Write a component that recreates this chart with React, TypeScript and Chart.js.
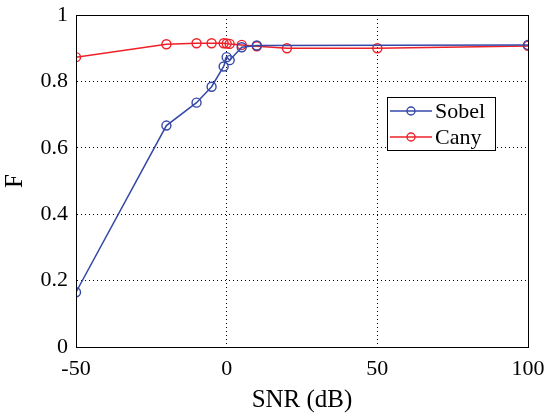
import React, { useEffect, useRef } from "react";
import { Chart, registerables } from "chart.js";

Chart.register(...registerables);

const sobelX = [-50, -20, -10, -5, -1, 0, 1, 5, 10, 100];
const sobelY = [0.165, 0.667, 0.736, 0.784, 0.845, 0.873, 0.864, 0.903, 0.908, 0.91];
const canyX = [-50, -20, -10, -5, -1, 0, 1, 5, 10, 20, 50, 100];
const canyY = [0.873, 0.912, 0.915, 0.915, 0.915, 0.914, 0.913, 0.91, 0.906, 0.9, 0.9, 0.907];
const seriesNames = ["Sobel", "Cany"];
const seriesColors = ["#3548A8", "#EE2028"];
const xTitle = "SNR (dB)";
const yTitle = "F";

const FONT = "'Liberation Serif', 'Times New Roman', serif";

export default function App() {
  const ref = useRef<HTMLCanvasElement | null>(null);
  useEffect(() => {
    if (!ref.current) return;
    const legendPlugin = {
      id: "boxLegend",
      afterDraw(chart: any) {
        const ctx = chart.ctx;
        const a = chart.chartArea;
        ctx.save();
        ctx.strokeStyle = "#000";
        ctx.lineWidth = 1;
        ctx.strokeRect(Math.round(a.left) + 0.5, Math.round(a.top) + 0.5, Math.round(a.right - a.left), Math.round(a.bottom - a.top));
        // legend box
        const x0 = 387, y0 = 97, w = 108, h = 53;
        ctx.fillStyle = "#fff";
        ctx.fillRect(x0, y0, w, h);
        ctx.strokeStyle = "#000";
        ctx.strokeRect(x0 + 0.5, y0 + 0.5, w, h);
        ctx.font = `22px ${FONT}`;
        ctx.textBaseline = "middle";
        seriesNames.forEach((name, i) => {
          const cy = y0 + 14 + i * 26;
          ctx.strokeStyle = seriesColors[i];
          ctx.lineWidth = 1.4;
          ctx.beginPath();
          ctx.moveTo(x0 + 3, cy);
          ctx.lineTo(x0 + 45, cy);
          ctx.stroke();
          ctx.beginPath();
          ctx.arc(x0 + 24, cy, 4, 0, Math.PI * 2);
          ctx.stroke();
          ctx.fillStyle = "#000";
          ctx.textAlign = "left";
          ctx.fillText(name, x0 + 48, cy + 1);
        });
        ctx.restore();
      },
    };
    const mk = (xs: number[], ys: number[], i: number) => ({
      label: seriesNames[i],
      data: xs.map((x, k) => ({ x, y: ys[k] })),
      borderColor: seriesColors[i],
      backgroundColor: "rgba(0,0,0,0)",
      pointBorderColor: seriesColors[i],
      pointBackgroundColor: "rgba(0,0,0,0)",
      borderWidth: 1.5,
      pointRadius: 4.5,
      pointBorderWidth: 1.4,
      showLine: true,
      tension: 0,
    });
    const chart = new Chart(ref.current, {
      type: "scatter",
      data: { datasets: [mk(sobelX, sobelY, 0), mk(canyX, canyY, 1)] },
      options: {
        animation: false,
        responsive: false,
        layout: { padding: { top: 15, right: 21, left: 0, bottom: 0 } },
        plugins: { legend: { display: false }, tooltip: { enabled: false } },
        scales: {
          x: {
            type: "linear",
            min: -50,
            max: 100,
            afterFit: (s: any) => { s.height = 71; s.paddingLeft = 0; s.paddingRight = 0; },
            ticks: { stepSize: 50, color: "#000", font: { family: FONT, size: 22 }, padding: 9 },
            grid: { color: "#000", lineWidth: 1, drawTicks: false } as any,
            border: { display: true, color: "#000", dash: [1, 3] } as any,
            title: { display: true, text: xTitle, color: "#000", font: { family: FONT, size: 25 }, padding: { top: 0, bottom: 3 } },
          },
          y: {
            type: "linear",
            min: 0,
            max: 1,
            afterFit: (s: any) => { s.width = 76; s.paddingTop = 0; s.paddingBottom = 0; },
            ticks: { stepSize: 0.2, color: "#000", font: { family: FONT, size: 22 }, padding: 8,
              callback: (v: any) => (Math.round(Number(v) * 10) / 10).toString() },
            grid: { color: "#000", lineWidth: 1, drawTicks: false } as any,
            border: { display: true, color: "#000", dash: [1, 3] } as any,
            title: { display: true, text: yTitle, color: "#000", font: { family: FONT, size: 25 }, padding: { top: 0, bottom: 0 } },
          },
        },
      } as any,
      plugins: [legendPlugin],
    });
    return () => chart.destroy();
  }, []);
  return (
    <div style={{ position: "fixed", left: 0, top: 0, width: 549, height: 418, background: "#fff" }}>
      <canvas ref={ref} width={549} height={418} style={{ width: 549, height: 418 }} />
    </div>
  );
}
